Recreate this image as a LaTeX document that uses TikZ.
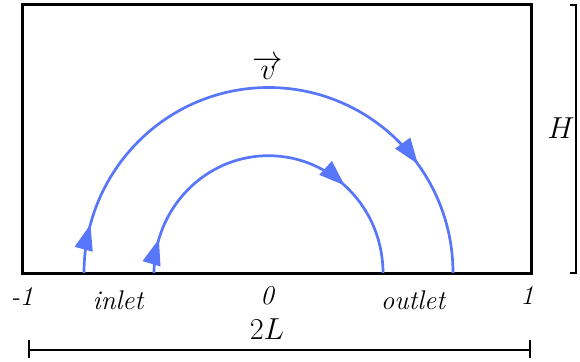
\documentclass[tikz,border=0pt]{standalone}
\usetikzlibrary{arrows.meta,decorations.markings}
\definecolor{flow}{RGB}{88,118,250}
\newcommand{\bigmath}[1]{\scalebox{1.22}{\Huge$#1$}}
\tikzset{
  frame/.style={line width=3pt},
  dim/.style={line width=2.6pt},
  lbl/.style={font=\fontsize{27}{32}\selectfont\itshape, inner sep=0pt},
  mlbl/.style={inner sep=0pt},
}
\begin{document}
\begin{tikzpicture}[x=1pt,y=-1pt]
\useasboundingbox (0,0) rectangle (580,361);
% channel
\draw[frame] (22,5) rectangle (531,273);
% streamlines
\draw[draw=flow, line width=2.7pt, postaction={decorate},
  decoration={markings,
    mark=at position 0.085 with {\arrow{Triangle[length=26pt,width=18pt,fill=flow]}},
    mark=at position 0.80 with {\arrow{Triangle[length=26pt,width=18pt,fill=flow]}}}]
  (84,273) arc[start angle=180,end angle=360,x radius=184.5,y radius=185.5];
\draw[draw=flow, line width=2.7pt, postaction={decorate},
  decoration={markings,
    mark=at position 0.095 with {\arrow{Triangle[length=26pt,width=18pt,fill=flow]}},
    mark=at position 0.73 with {\arrow{Triangle[length=26pt,width=18pt,fill=flow]}}}]
  (154,273) arc[start angle=180,end angle=360,x radius=114.5,y radius=117.3];
% labels
\node[lbl] (m1) at (22,297) {-1};
\node[lbl] (inl) at (118,300) {inlet};
\node[lbl] (z) at (267,296) {0};
\node[lbl] (outl) at (413,300) {outlet};
\node[lbl] (one) at (527,296) {1};
\node[mlbl] (vel) at (268,68) {\bigmath{\overrightarrow{v}}};
\node[mlbl] (two) at (267,329) {\bigmath{2L}};
\node[mlbl] (hh) at (561,128) {\bigmath{H}};
% dimension lines
\coordinate (ha) at (576,5);
\coordinate (hb) at (576,273);
\draw[dim] (570,5) -- (ha) -- (hb) -- (570,273);
\coordinate (la) at (29,350);
\coordinate (lb) at (530,350);
\draw[dim] (la) -- (lb);
\draw[dim] (29,340) -- (29,358);
\draw[dim] (530,340) -- (530,358);
\end{tikzpicture}
\end{document}
